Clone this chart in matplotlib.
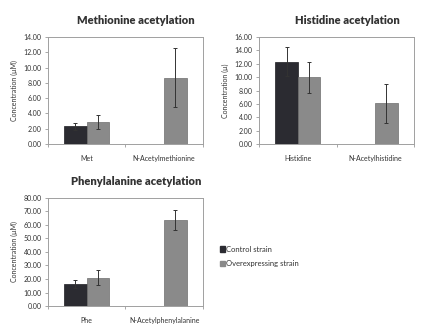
import matplotlib
matplotlib.use("Agg")
import matplotlib.pyplot as plt
import numpy as np
from matplotlib.patches import Patch

plt.rcParams['font.family'] = ['Lato', 'DejaVu Sans']

series = ["Control strain", "Overexpressing strain"]
colors = ["#2b2b31", "#8a8a8a"]

met_cats = ["Met", "N-Acetylmethionine"]
met_ctrl = [2.3, np.nan]
met_ctrl_err = [0.45, 0]
met_over = [2.9, 8.7]
met_over_err = [0.9, 3.9]

his_cats = ["Histidine", "N-Acetylhistidine"]
his_ctrl = [12.3, np.nan]
his_ctrl_err = [2.15, 0]
his_over = [9.95, 6.1]
his_over_err = [2.25, 2.9]

phe_cats = ["Phe", "N-Acetylphenylalanine"]
phe_ctrl = [16.6, np.nan]
phe_ctrl_err = [3.0, 0]
phe_over = [20.9, 63.9]
phe_over_err = [5.5, 7.5]

fig = plt.figure(figsize=(4.22, 3.31), dpi=100)

def panel(rect, title, cats, ctrl, cerr, over, oerr, ymax, step, ylabel):
    ax = fig.add_axes(rect)
    x = np.arange(len(cats))
    w = 0.29
    ctrl_arr = np.array(ctrl, dtype=float)
    m = ~np.isnan(ctrl_arr)
    ax.bar(x[m] - w/2, ctrl_arr[m], w, color=colors[0], edgecolor="#1e1e22", linewidth=0.5,
           yerr=np.array(cerr)[m], error_kw=dict(ecolor="#333333", elinewidth=0.7, capsize=1.5, capthick=0.7))
    ax.bar(x + w/2, over, w, color=colors[1], edgecolor="#6e6e6e", linewidth=0.5,
           yerr=oerr, error_kw=dict(ecolor="#333333", elinewidth=0.7, capsize=1.5, capthick=0.7))
    ax.set_xlim(-0.5, len(cats) - 0.5)
    ax.set_ylim(0, ymax)
    ax.set_yticks(np.arange(0, ymax + step/2, step))
    ax.set_yticklabels([f"{v:.2f}" for v in np.arange(0, ymax + step/2, step)], fontsize=5, color="#333333")
    ax.set_xticks(x)
    ax.set_xticklabels(cats, fontsize=5, color="#333333")
    ax.set_xticks([-0.5, 0.5, 1.5], minor=True)
    ax.tick_params(axis='x', which='major', length=0, pad=8)
    ax.tick_params(axis='x', which='minor', length=2.5, color="#999999", width=0.6)
    ax.tick_params(axis='y', length=2.5, color="#999999", width=0.6, pad=2)
    for s in ax.spines.values():
        s.set_color("#a0a0a0")
        s.set_linewidth(0.7)
    ax.set_ylabel(ylabel, fontsize=5, color="#333333", labelpad=4)
    ax.text(0.57, 1.155, title, transform=ax.transAxes, ha='center', va='center',
            fontsize=8, fontweight='heavy', color="#333333")
    return ax

panel([0.1137, 0.565, 0.367, 0.323], "Methionine acetylation", met_cats,
      met_ctrl, met_ctrl_err, met_over, met_over_err, 14, 2, "Concentration (µM)")
panel([0.614, 0.565, 0.367, 0.323], "Histidine acetylation", his_cats,
      his_ctrl, his_ctrl_err, his_over, his_over_err, 16, 2, "Concentration (µ)")
panel([0.1137, 0.0755, 0.367, 0.3265], "Phenylalanine acetylation", phe_cats,
      phe_ctrl, phe_ctrl_err, phe_over, phe_over_err, 80, 10, "Concentration (µM)")

handles = [Patch(facecolor=colors[0], edgecolor=colors[0]), Patch(facecolor=colors[1], edgecolor=colors[1])]
fig.legend(handles, series, loc='center left', bbox_to_anchor=(0.505, 0.225), frameon=False,
           fontsize=5.5, handlelength=0.7, handleheight=0.7, handletextpad=0.1, labelspacing=1.0,
           labelcolor="#333333")

fig.savefig("out.png", dpi=100)
